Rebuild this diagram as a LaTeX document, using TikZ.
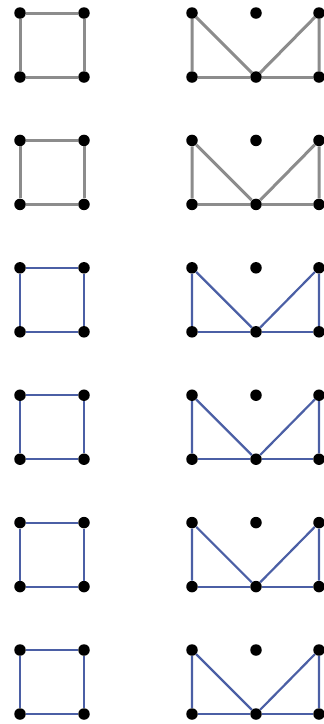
\documentclass[tikz,border=0pt]{standalone}
\usetikzlibrary{positioning}
\definecolor{edgegray}{RGB}{140,140,140}
\definecolor{edgeblue}{RGB}{75,95,165}
\tikzset{
  vertex/.style={shape=circle,fill=black,minimum size=11.5pt,inner sep=0},
}
\begin{document}
\begin{tikzpicture}[x=1pt,y=-1pt]
  \useasboundingbox (0,0) rectangle (324,724);
  % one row per graph pair: square on the left, M shape on the right
  \foreach \r/\col/\lw in {0/edgegray/3pt,1/edgegray/3pt,2/edgeblue/2.2pt,3/edgeblue/2.2pt,4/edgeblue/2.2pt,5/edgeblue/2.2pt}{
    \pgfmathsetmacro{\yt}{13+127.4*\r}
    \pgfmathsetmacro{\yb}{\yt+64}
    % square
    \node[vertex] (sq\r-tl) at (20,\yt) {};
    \node[vertex] (sq\r-tr) at (84,\yt) {};
    \node[vertex] (sq\r-bl) at (20,\yb) {};
    \node[vertex] (sq\r-br) at (84,\yb) {};
    \draw[\col,line width=\lw] (sq\r-tl) -- (sq\r-tr) -- (sq\r-br) -- (sq\r-bl) -- (sq\r-tl);
    % M shape
    \node[vertex] (m\r-tl) at (192,\yt) {};
    \node[vertex] (m\r-tm) at (256,\yt) {};
    \node[vertex] (m\r-tr) at (319,\yt) {};
    \node[vertex] (m\r-bl) at (192,\yb) {};
    \node[vertex] (m\r-bm) at (256,\yb) {};
    \node[vertex] (m\r-br) at (319,\yb) {};
    \draw[\col,line width=\lw] (m\r-bl) -- (m\r-tl) -- (m\r-bm) -- (m\r-tr) -- (m\r-br);
    \draw[\col,line width=\lw] (m\r-bl) -- (m\r-bm) -- (m\r-br);
  }
\end{tikzpicture}
\end{document}
